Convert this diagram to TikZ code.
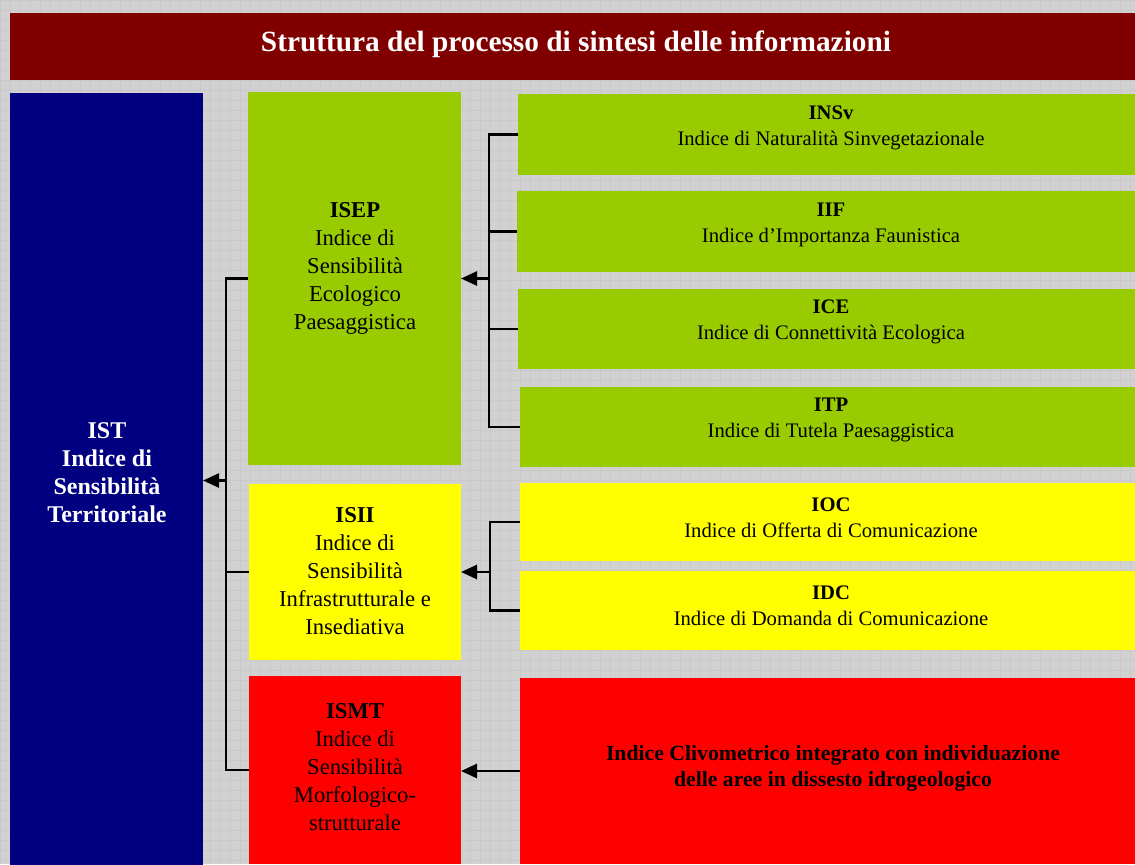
\documentclass[tikz,border=0pt]{standalone}
\usepackage{fontspec}
\setmainfont{Liberation Serif}
\usetikzlibrary{arrows.meta}
\definecolor{bgc}{HTML}{D1D1D1}
\definecolor{gridc}{HTML}{C9C9C9}
\definecolor{titlec}{HTML}{800000}
\definecolor{istc}{HTML}{000080}
\definecolor{greenc}{HTML}{99CC00}
\definecolor{yellowc}{HTML}{FFFF00}
\definecolor{redc}{HTML}{FF0000}
\tikzset{
  box/.style={draw=none, inner sep=0pt, outer sep=0pt, anchor=north west},
  lefttxt/.style={align=center, font=\fontsize{17}{21}\selectfont, text=black},
  righttxt/.style={align=center, font=\fontsize{15.5}{19.5}\selectfont, text=black},
  conn/.style={line width=2pt, black},
  arr/.style={conn, -{Triangle[length=12pt, width=10.5pt]}}
}
\begin{document}
\begin{tikzpicture}[x=0.75pt, y=-0.75pt]
\useasboundingbox (0,0) rectangle (1135,864);
\clip (0,0) rectangle (1135,864);
\fill[bgc] (0,0) rectangle (1135,864);
\foreach \g in {0,10,...,1140} {\draw[gridc, line width=0.5pt] (\g,0) -- (\g,864);}
\foreach \g in {0,10,...,870} {\draw[gridc, line width=0.5pt] (0,\g) -- (1135,\g);}

% title
\node[box, fill=titlec, minimum width=1135*0.75pt, minimum height=67*0.75pt] (title) at (10,13) {};
\node[text=white, font=\fontsize{22}{26}\selectfont\bfseries] (titletxt) at (576,44) {Struttura del processo di sintesi delle informazioni};

% IST
\node[box, fill=istc, minimum width=193*0.75pt, minimum height=775*0.75pt] (ist) at (10,93) {};
\node[align=center, text=white, font=\fontsize{18}{21}\selectfont\bfseries] (isttxt) at (107,473) {IST\\Indice di\\Sensibilità\\Territoriale};

% middle column
\node[box, fill=greenc, minimum width=213*0.75pt, minimum height=373*0.75pt] (isep) at (248,92) {};
\node[lefttxt] (iseptxt) at (355,268) {\textbf{ISEP}\\Indice di\\Sensibilità\\Ecologico\\Paesaggistica};

\node[box, fill=yellowc, minimum width=212*0.75pt, minimum height=176*0.75pt] (isii) at (249,484) {};
\node[lefttxt] (isiitxt) at (355,571) {\textbf{ISII}\\Indice di\\Sensibilità\\Infrastrutturale e\\Insediativa};

\node[box, fill=redc, minimum width=212*0.75pt, minimum height=188*0.75pt] (ismt) at (249,676) {};
\node[lefttxt] (ismttxt) at (355,767) {\textbf{ISMT}\\Indice di\\Sensibilità\\Morfologico-\\strutturale};

% right column
\node[box, fill=greenc, minimum width=626*0.75pt, minimum height=81*0.75pt] (insv) at (518,94) {};
\node[righttxt] (insvtxt) at (831,128) {\textbf{INSv}\\Indice di Naturalità Sinvegetazionale};

\node[box, fill=greenc, minimum width=627*0.75pt, minimum height=81*0.75pt] (iif) at (517,191) {};
\node[righttxt] (iiftxt) at (831,225) {\textbf{IIF}\\Indice d’Importanza Faunistica};

\node[box, fill=greenc, minimum width=626*0.75pt, minimum height=80*0.75pt] (ice) at (518,289) {};
\node[righttxt] (icetxt) at (831,322) {\textbf{ICE}\\Indice di Connettività Ecologica};

\node[box, fill=greenc, minimum width=624*0.75pt, minimum height=80*0.75pt] (itp) at (520,387) {};
\node[righttxt] (itptxt) at (831,420) {\textbf{ITP}\\Indice di Tutela Paesaggistica};

\node[box, fill=yellowc, minimum width=624*0.75pt, minimum height=78*0.75pt] (ioc) at (520,483) {};
\node[righttxt] (ioctxt) at (831,518) {\textbf{IOC}\\Indice di Offerta di Comunicazione};

\node[box, fill=yellowc, minimum width=624*0.75pt, minimum height=79*0.75pt] (idc) at (520,571) {};
\node[righttxt] (idctxt) at (831,606) {\textbf{IDC}\\Indice di Domanda di Comunicazione};

\node[box, fill=redc, minimum width=624*0.75pt, minimum height=186*0.75pt] (icl) at (520,678) {};
\node[righttxt, font=\fontsize{16.3}{19.5}\selectfont\bfseries] (icltxt) at (833,768) {Indice Clivometrico integrato con individuazione\\delle aree in dissesto idrogeologico};

% connectors
\coordinate (bE) at (489,0);
\coordinate (bI) at (490,0);
\coordinate (bL) at (226,0);

\draw[conn] (insv.west) -- (insv.west -| bE) -- (itp.west -| bE) -- (itp.west);
\draw[conn] (iif.west) -- (iif.west -| bE);
\draw[conn] (ice.west) -- (ice.west -| bE);
\draw[arr] (isep.east -| bE) -- (isep.east);

\draw[conn] (ioc.west) -- (ioc.west -| bI) -- (idc.west -| bI) -- (idc.west);
\draw[arr] (isii.east -| bI) -- (isii.east);

\draw[arr] (icl.west) -- (icl.west -| ismt.east);

\draw[conn] (isep.west) -- (isep.west -| bL) -- (ismt.west -| bL) -- (ismt.west);
\draw[conn] (isii.west) -- (isii.west -| bL);
\draw[arr] (ist.east -| bL) -- (ist.east);
\end{tikzpicture}
\end{document}
